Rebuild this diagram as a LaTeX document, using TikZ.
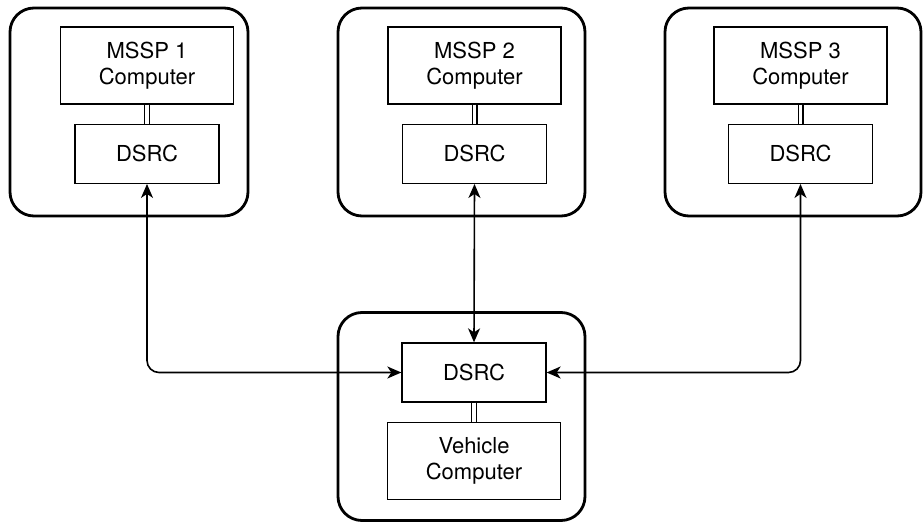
\documentclass[tikz,border=0pt]{standalone}
\usepackage{fontspec}
\setmainfont{TeX Gyre Heros}
\usetikzlibrary{positioning,arrows.meta}

\tikzset{
  site/.style={draw, line width=2.8pt, rounded corners=24pt, inner sep=0pt},
  unit/.style={draw, line width=1.3pt, align=center, inner sep=0pt,
               minimum width=173pt, minimum height=77pt},
  radio/.style={draw, line width=1.3pt, inner sep=0pt,
               minimum width=144pt, minimum height=59pt},
  wire/.style={draw, line width=1.2pt, double, double distance=3.6pt},
  link/.style={line width=1.6pt, rounded corners=12pt,
               {Stealth[length=14pt,width=12pt,inset=4pt]}-{Stealth[length=14pt,width=12pt,inset=4pt]}}
}

\begin{document}
\begin{tikzpicture}[x=1pt,y=-1pt,font=\fontsize{22}{26}\selectfont]
	\useasboundingbox (0,0) rectangle (924,527);

	% road side units
	\node[site, minimum width=238pt, minimum height=208pt] (S1) at (129,112) {};
	\node[site, minimum width=247pt, minimum height=208pt] (S2) at (461.5,112) {};
	\node[site, minimum width=256pt, minimum height=208pt] (S3) at (793,112) {};
	\node[site, minimum width=247pt, minimum height=208pt] (V) at (461.5,416.5) {};

	\node[unit] (M1) at (147,65.5) {MSSP 1\\Computer};
	\node[radio, below=19pt of M1] (D1) {DSRC};
	\node[unit] (M2) at (474.5,65.5) {MSSP 2\\Computer};
	\node[radio, below=19pt of M2] (D2) {DSRC};
	\node[unit] (M3) at (800.5,65.5) {MSSP 3\\Computer};
	\node[radio, below=19pt of M3] (D3) {DSRC};

	% vehicle
	\node[radio] (DV) at (474,372.5) {DSRC};
	\node[unit, below=19pt of DV] (VC) {Vehicle\\Computer};

	\path[wire] (M1) -- (D1);
	\path[wire] (M2) -- (D2);
	\path[wire] (M3) -- (D3);
	\path[wire] (DV) -- (VC);

	\draw[link] (D1.south) |- (DV.west);
	\draw[link] (D2.south) -- (DV.north);
	\draw[link] (D3.south) |- (DV.east);
\end{tikzpicture}
\end{document}
